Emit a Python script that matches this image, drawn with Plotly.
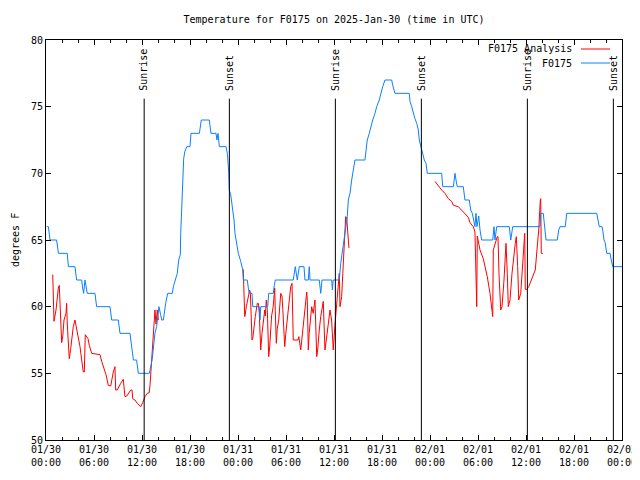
import pandas as pd
import plotly.graph_objects as go

TITLE = "Temperature for F0175 on 2025-Jan-30 (time in UTC)"
BASE = pd.Timestamp("2025-01-30 00:00")

# Observed temperature (hours since 01/30 00:00 UTC, degrees F)
obs_hours = [0.1, 0.3, 0.5, 1.33, 1.55, 2.66, 2.8, 3.62, 3.83, 4.46, 4.58, 4.71, 4.87, 5.0, 5.16,
             6.12, 6.33, 8.0, 8.21, 9.04, 9.25, 10.5, 10.71, 10.83, 10.92, 11.33, 11.54, 12.92,
             13.12, 13.29, 13.42, 13.62, 13.83, 14.12, 14.33, 14.46, 14.67, 14.75, 14.96, 15.21,
             15.79, 15.92, 16.21, 16.41, 16.59, 16.79, 16.84, 17.0, 17.09, 17.21, 17.34, 17.59,
             18.0, 18.12, 19.17, 19.41, 20.41, 20.62, 21.25, 21.37, 21.5, 21.67, 22.5, 22.67,
             22.84, 22.91, 23.09, 23.25, 23.41, 23.5, 23.62, 23.75, 23.84, 24.04, 24.34, 24.59,
             24.66, 25.16, 25.29, 25.41, 25.75, 25.84, 26.66, 26.75, 26.84, 27.71, 27.84, 28.41,
             28.54, 28.66, 30.91, 31.16, 31.41, 31.66, 32.25, 32.37, 32.79, 32.91, 33.0, 34.16,
             34.34, 34.5, 35.71, 35.8, 35.9, 36.66, 36.84, 37.04, 37.16, 37.37, 37.66, 37.79,
             38.0, 38.21, 38.41, 38.62, 39.87, 40.0, 40.16, 40.41, 40.59, 40.84, 41.12, 41.34,
             41.66, 41.84, 42.09, 42.37, 43.21, 43.34, 43.62, 45.41, 45.5, 45.71, 45.91, 46.12,
             46.34, 46.54, 46.66, 46.84, 47.09, 47.29, 47.5, 47.66, 49.46, 49.59, 50.92, 51.12,
             51.25, 51.41, 52.16, 52.37, 52.91, 53.09, 53.29, 53.62, 53.75, 53.87, 54.09, 54.25,
             54.46, 55.84, 56.0, 56.12, 56.34, 57.91, 58.09, 58.34, 61.75, 61.84, 62.16, 62.25,
             62.37, 62.5, 63.91, 64.09, 64.25, 64.91, 65.09, 68.84, 69.0, 69.16, 69.5, 69.59,
             69.75, 69.9, 70.09, 70.5, 70.66, 70.84, 72.0]
obs_temp = [66, 66, 65, 65, 64, 64, 63, 63, 62, 62, 61.4, 61, 62, 61.5, 61,
            61, 60, 60, 59, 59, 58, 58, 57, 56.5, 56, 56, 55, 55,
            55.6, 56.1, 56.9, 58, 58.5, 60, 59.4, 59, 59, 59.5, 60.25, 61,
            61, 61.5, 62, 62.5, 63.5, 63.9, 65.5, 68, 70, 71.1, 71.6, 72,
            72, 73, 73, 74, 74, 73, 73, 72.5, 73, 72, 72, 71.5,
            70.1, 68.75, 68.4, 67.75, 67, 66.5, 65.5, 65, 64.75, 64, 63.4, 62.75,
            62, 62, 61.4, 61, 61, 60, 60, 59, 60, 60, 61, 61,
            61.6, 62, 62, 63, 62, 63, 63, 62, 62, 63, 62, 62,
            61, 62, 62, 61.25, 62, 62, 63.25, 64.2, 64.75, 65.75, 66.75, 68,
            68.5, 69.5, 70.25, 71, 71, 71.75, 72.5, 73, 73.5, 74, 74.5, 75,
            75.5, 76, 76.5, 77, 77, 76.6, 76, 76, 75.4, 75, 74.5, 74.1,
            73.75, 73.25, 72.5, 72, 71.5, 71, 70.75, 70, 70, 69, 69, 70,
            69.5, 69, 69, 68, 68, 67.25, 67, 66, 67, 66, 66.8, 65.75,
            65, 65, 66, 65, 66, 66, 65, 66, 66, 67, 67, 66.5,
            65.5, 65, 65, 65.75, 66, 66, 67, 67, 66.5, 66, 66, 65.75,
            65, 64.8, 64, 64, 63.5, 63, 63]

# Analysis temperature (None marks gaps between analysis runs)
ana_hours = [0.84, 0.91, 1.0, 1.25, 1.41, 1.54, 1.66, 1.75, 1.87, 1.96, 2.1, 2.25, 2.5, 2.58, 2.66,
             2.79, 2.91, 3.08, 3.2, 3.41, 3.62, 3.8, 4.04, 4.25, 4.46, 4.66, 4.79, 4.91, 5.25,
             5.41, 5.71, 6.75, 6.96, 7.2, 7.5, 7.79, 8.09, 8.41, 8.62, 8.71, 8.9, 9.34, 9.66,
             9.87, 10.1, 10.59, 10.75, 10.84, 11.12, 11.41, 11.75, 11.84, 12.09, 12.37, 12.66,
             12.91, 13.0, 13.21, 13.41, 13.62, 13.75, 13.91, 14.04,
             None,
             24.66, 24.75, 24.84, 24.9, 25.04, 25.25, 25.46, 25.55, 25.75, 25.84, 26.0, 26.16,
             26.41, 26.55, 26.66, 26.84, 27.0, 27.1, 27.34, 27.41, 27.54, 27.66, 27.84, 27.96,
             28.09, 28.2, 28.4, 28.59, 28.66, 28.79, 28.9, 29.09, 29.34, 29.5, 29.6, 29.84,
             29.96, 30.16, 30.3, 30.59, 30.75, 30.91, 31.5, 31.6, 31.84, 31.96, 32.16, 32.37,
             32.59, 32.66, 32.79, 32.9, 33.09, 33.21, 33.4, 33.62, 33.84, 33.96, 34.16, 34.34,
             34.66, 34.75, 34.87, 35.1, 35.3, 35.5, 35.7, 35.91, 36.1, 36.34, 36.54, 36.66,
             36.75, 36.96, 37.1, 37.25, 37.46, 37.58, 37.7, 37.87,
             None,
             48.62, 49.04, 49.46, 49.87, 50.29, 50.71, 50.91, 51.54, 51.96, 52.37, 52.79, 53.0,
             53.41, 53.62, 53.75, 53.84, 53.91, 54.04, 54.25, 54.66, 55.0, 55.16, 55.5, 55.71,
             55.84, 55.91, 56.12, 56.41, 56.5, 56.62, 56.84, 57.0, 57.25, 57.37, 57.5, 57.66,
             57.79, 58.0, 58.25, 58.66, 58.79, 58.96, 59.09, 59.34, 59.55, 59.71, 59.84, 59.91,
             60.1, 60.34, 60.59, 60.75, 61.16, 61.37, 61.59, 61.79, 61.84, 61.91, 62.1]
ana_temp = [62.4, 58.9, 58.9, 59.75, 60.75, 61.4, 61.6, 59.8, 58.25, 57.3, 57.8, 59, 59.5, 60.25, 58.7,
            57.5, 56.1, 56.8, 57.5, 58.5, 59, 58.5, 57.75, 57, 56, 55.1, 55.1, 57.9, 57.6,
            57.1, 56.5, 56.4, 55.9, 55.5, 54.9, 54.1, 54.05, 55.1, 55.5, 53.75, 53.75, 54.25, 54.55,
            53.25, 53.3, 53.75, 53.75, 53.1, 53.0, 52.75, 52.5, 52.5, 52.8, 53.25, 53.5,
            53.55, 54.1, 56, 58, 59.75, 58.7, 59.75, 59.0,
            None,
            62.8, 60.75, 59.25, 59.4, 60, 60.75, 61.25, 61.0, 57.5, 57.6, 58.5, 59.25,
            60.25, 60.25, 59.5, 56.75, 58, 58.6, 59.75, 59.3, 60.5, 59.8, 56.25, 57.0,
            58.25, 59.3, 60.0, 61.4, 59.7, 57.25, 58.3, 59.0, 61, 60.8, 59.8, 57,
            57.9, 59.0, 59.9, 61.5, 61.75, 57.5, 57.5, 57.75, 56.75, 57.5, 58.75, 60.1,
            61.1, 60.5, 56.75, 58, 59.5, 60, 59.5, 60.5, 56.25, 56.75, 58.25, 59.25,
            60.4, 59.3, 56.75, 57.8, 58.7, 59.75, 59.0, 56.75, 58.5, 60.5, 61.75, 62.5,
            60, 60.75, 62.5, 64.5, 66.75, 66.7, 65.5, 64.4,
            None,
            69.4, 69.05, 68.75, 68.5, 68.1, 67.9, 67.6, 67.5, 67.25, 67, 66.7, 66.3,
            66.0, 65.6, 62.75, 60.0, 65.3, 64.75, 64.25, 63.6, 62.75, 62.25, 61.0, 60.0,
            59.25, 64.25, 64.75, 65.25, 65.25, 62.5, 59.75, 60.0, 62.0, 63.6, 64.75, 62.5,
            60.0, 60.5, 62.5, 64.75, 65.25, 63.0, 60.5, 61.0, 63.0, 64.75, 65.5, 61.3,
            61.3, 61.5, 61.9, 62.1, 62.75, 64.25, 65.75, 68.0, 68.1, 64.0, 64.0]

# Sun events
event_hours = [12.27, 22.92, 36.17, 46.92, 60.17, 70.92]
event_labels = ["Sunrise", "Sunset", "Sunrise", "Sunset", "Sunrise", "Sunset"]

series_names = ["F0175 Analysis", "F0175"]
series_colors = ["#ff0000", "#0a80ff"]

y_range = [50, 80]
y_ticks = [50, 55, 60, 65, 70, 75, 80]


def to_time(hours):
    return [None if h is None else BASE + pd.Timedelta(hours=h) for h in hours]


FONT = "DejaVu Sans Mono"
# the page body adds an 8px offset; compensate so the plot lands where the reference has it
OFF = 8
fig = go.Figure()
fig.add_trace(go.Scatter(x=to_time(ana_hours), y=ana_temp, mode="lines",
                         line=dict(color=series_colors[0], width=1),
                         connectgaps=False, name=series_names[0], showlegend=False))
fig.add_trace(go.Scatter(x=to_time(obs_hours), y=obs_temp, mode="lines",
                         line=dict(color=series_colors[1], width=1),
                         name=series_names[1], showlegend=False))

line_top = 75.6
label_y = 76.05
for h, lab in zip(event_hours, event_labels):
    t = BASE + pd.Timedelta(hours=h)
    fig.add_shape(type="line", x0=t, x1=t, y0=y_range[0], y1=line_top,
                  xref="x", yref="y", line=dict(color="black", width=1))
    fig.add_annotation(x=t, y=label_y, xref="x", yref="y", text=lab, textangle=-90,
                       showarrow=False, xanchor="center", yanchor="bottom",
                       font=dict(family=FONT, size=10, color="black"))

# manual gnuplot-style key (text left of line sample)
W, H = 576, 400
key_rows_px = [49, 63]
for i, (nm, col) in enumerate(zip(series_names, series_colors)):
    yp = 1 - (key_rows_px[i] - 40) / H
    fig.add_annotation(x=(574 - 46) / W, y=yp, xref="paper", yref="paper", text=nm,
                       showarrow=False, xanchor="right", yanchor="middle",
                       font=dict(family=FONT, size=10, color="black"))
    fig.add_shape(type="line", x0=(581 - 46) / W, x1=(610 - 46) / W, y0=yp, y1=yp,
                  xref="paper", yref="paper", line=dict(color=col, width=1))

fig.add_annotation(x=-(46 - 15) / W, y=0.5, xref="paper", yref="paper", text="degrees F",
                   textangle=-90, showarrow=False, xanchor="center", yanchor="middle",
                   borderpad=0,
                   font=dict(family=FONT, size=10, color="black"))

fig.update_layout(
    width=640, height=480,
    margin=dict(l=46 - OFF, r=640 - 622 + OFF, t=40 - OFF, b=40 + OFF, autoexpand=False),
    paper_bgcolor="white", plot_bgcolor="white",
    font=dict(family=FONT, size=10, color="black"),
    title=dict(text=TITLE, x=0.5, xref="paper", xanchor="center",
               y=1 - (19 - OFF) / 480, yref="container", yanchor="middle",
               font=dict(family=FONT, size=10, color="black")),
    showlegend=False,
)
fig.update_xaxes(
    type="date",
    range=[BASE, BASE + pd.Timedelta(hours=72)],
    tick0=BASE, dtick=6 * 3600 * 1000,
    tickformat="%m/%d<br>%H:%M",
    ticks="inside", ticklen=5, tickcolor="black",
    minor=dict(dtick=2 * 3600 * 1000, ticks="inside", ticklen=3, tickcolor="black"),
    showline=True, linecolor="black", linewidth=1, mirror="ticks",
    showgrid=False, zeroline=False, automargin=False,
    tickfont=dict(family=FONT, size=10, color="black"),
)
fig.update_yaxes(
    range=y_range, tickvals=y_ticks,
    ticks="inside", ticklen=5, tickcolor="black",
    showline=True, linecolor="black", linewidth=1, mirror="ticks",
    showgrid=False, zeroline=False, automargin=False,
    tickfont=dict(family=FONT, size=10, color="black"),
)

fig.write_html("out.html")
